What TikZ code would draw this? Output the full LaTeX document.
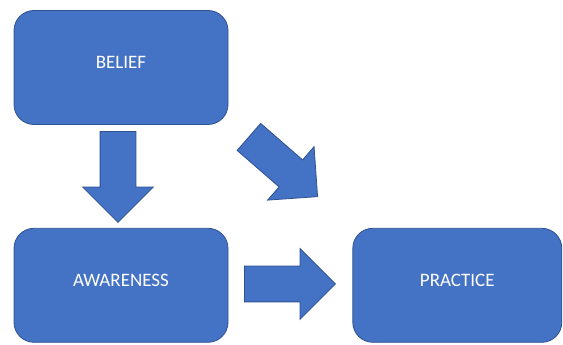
\documentclass[tikz,border=0pt]{standalone}
\usepackage{fontspec}
\setmainfont{Carlito}
\usetikzlibrary{positioning, shapes.arrows}
\definecolor{boxblue}{HTML}{4472C4}
\definecolor{edgeblue}{HTML}{2F528F}

\begin{document}
\begin{tikzpicture}[
    x=1pt, y=1pt,
    stage/.style={draw=edgeblue, fill=boxblue, line width=0.8pt,
        rounded corners=20pt, minimum width=214pt, minimum height=114pt,
        text=white, font=\fontsize{19}{21}\selectfont,
        text height=12pt, text depth=10pt},
    blockarrow/.style={single arrow, draw=edgeblue, fill=boxblue,
        line width=0.8pt, minimum height=91pt, inner xsep=0pt,
        inner ysep=17.5pt, single arrow head extend=17.5pt,
        single arrow tip angle=90, single arrow head indent=0pt,
        anchor=tip}
]
\useasboundingbox (0,0) rectangle (563,345);

% Stages
\node[stage] (belief) at (121,277.5) {BELIEF};
\node[stage, below=103pt of belief] (awareness) {AWARENESS};
\node[stage, minimum width=209pt, right=124pt of awareness] (practice) {PRACTICE};

% Block arrows between the stages, placed by their tips
\node[blockarrow, rotate=-90] (down) at (118,122) {};
\node[blockarrow] (across) at (336,61) {};
\node[blockarrow, rotate=-41] (diag) at (318,148) {};

\end{tikzpicture}
\end{document}
